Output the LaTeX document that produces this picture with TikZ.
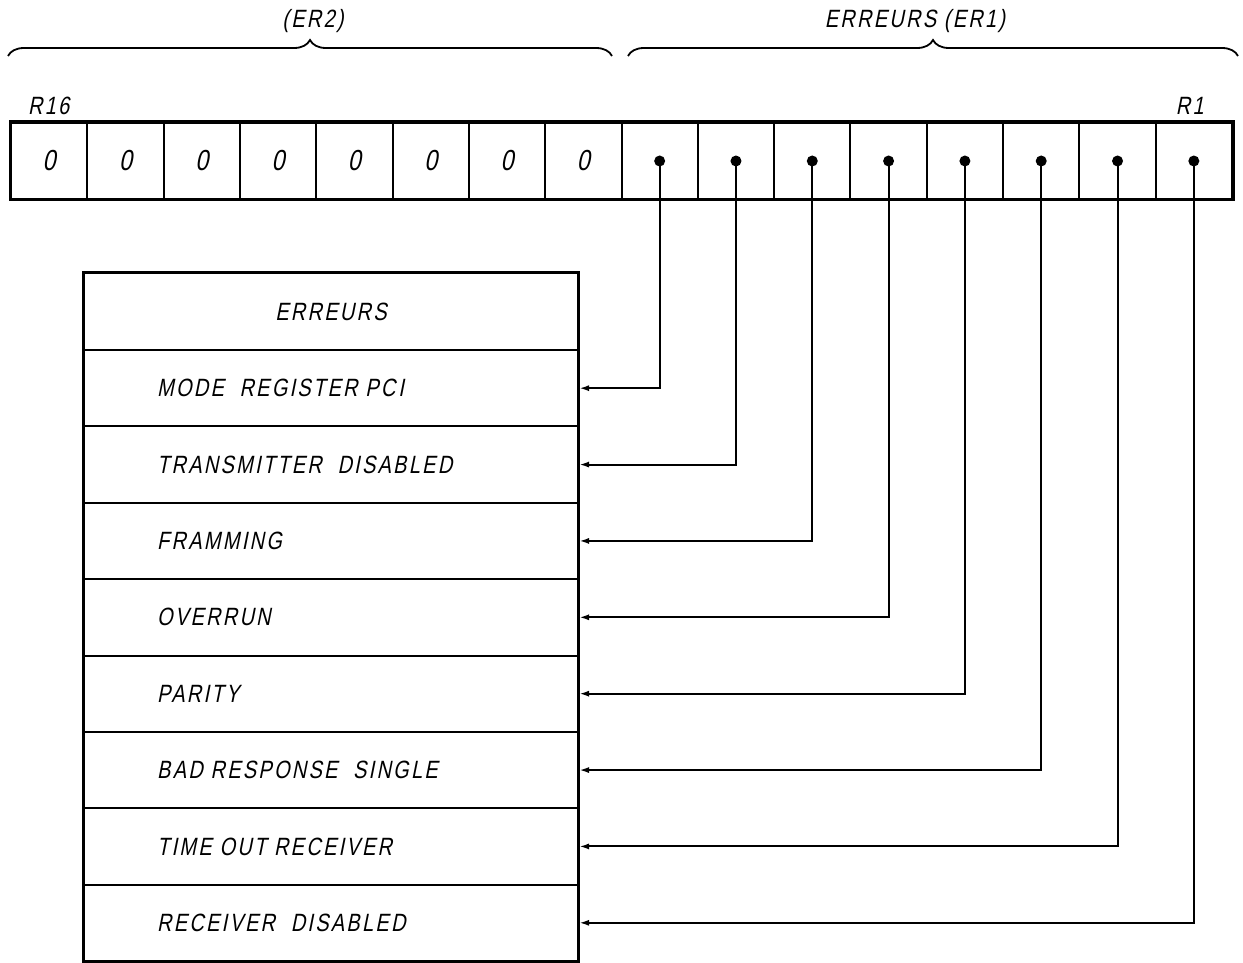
\documentclass[tikz,border=0pt]{standalone}
\usepackage{fontspec}
\newfontfamily\lab{Liberation Sans}[FakeStretch=0.8, FakeSlant=0.2, LetterSpace=9]
\usetikzlibrary{decorations.pathreplacing,arrows.meta}
\tikzset{
  cell/.style={draw, line width=2pt, minimum width=76.3125pt, minimum height=76pt, inner sep=0pt},
  tabrow/.style={draw, line width=2pt, minimum width=494pt, inner sep=0pt},
  txt/.style={font=\lab\fontsize{25}{25}\selectfont, inner sep=0pt},
  digit/.style={font=\lab\fontsize{29}{29}\selectfont, inner sep=0pt},
  conn/.style={line width=2pt, -{Latex[length=10pt,width=6pt]}},
  brc/.style={line width=1.8pt, decorate, decoration={brace, amplitude=16pt}},
  dot/.style={circle, fill, inner sep=0pt, minimum size=11pt}
}
\begin{document}
\begin{tikzpicture}[x=1pt,y=-1pt]
\useasboundingbox (0,0) rectangle (1243,963);
% register
\foreach \i in {0,...,15} {
  \node[cell] (c\i) at ({11+76.3125*(\i+0.5)},161) {};
}
\foreach \i in {0,...,7} { \node[digit] (z\i) at (c\i.center) {0}; }
\draw[line width=3pt] (c0.north west) rectangle (c15.south east);
\node[txt, anchor=south west] (r16) at (28,115) {R16};
\node[txt, anchor=south east] (r1) at (1204,115) {R1};
% braces
\draw[brc] (8,56) -- (612,56);
\draw[brc] (628,56) -- (1238,56);
\node[txt] (er2) at (313,21) {(ER2)};
\node[txt] (er1) at (915,21) {ERREURS (ER1)};
% table
\node[tabrow, minimum height=77pt] (row0) at (331,311.5) {};
\foreach \k in {1,...,8} {
  \node[tabrow, minimum height=76.375pt] (row\k) at (331,{350+76.375*(\k-0.5)}) {};
}
\draw[line width=2.5pt] (row0.north west) rectangle (row8.south east);
\node[txt] (t0) at (row0.center) {ERREURS};
\foreach \k/\t in {1/MODE\ \ REGISTER\ PC\kern3pt I,2/TRANSMITTER\ \ DISABLED,3/FRAMMING,4/OVERRUN,5/PARITY,6/BAD\ RESPONSE\ \ SINGLE,7/TIME\ OUT\ RECEIVER,8/RECEIVER\ \ DISABLED} {
  \node[txt, anchor=west] (t\k) at ([xshift=74pt]row\k.west) {\t};
}
% connectors
\foreach \k in {1,...,8} {
  \pgfmathtruncatemacro{\j}{\k+7}
  \node[dot] (d\j) at (c\j.center) {};
  \draw[conn] (d\j.center) |- (row\k.east);
}
\end{tikzpicture}
\end{document}
